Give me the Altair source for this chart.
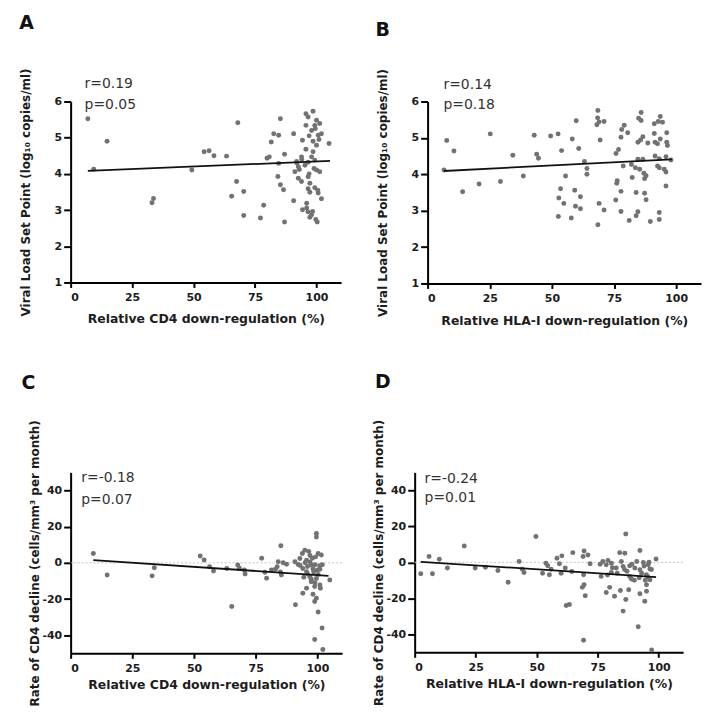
import altair as alt
import pandas as pd

# ---------------- data ----------------
# Panel A: relative CD4 down-regulation (%) vs viral load set point (log10 copies/ml)
a_x = [7.0, 9.4, 14.8, 33.1, 33.7, 49.3, 54.3, 56.3, 58.3, 63.4, 68.0, 67.5, 65.5, 70.4, 70.4, 77.2, 78.5, 79.9, 80.8, 81.6,
       82.6, 84.6, 85.3, 84.6, 84.3, 85.3, 86.6, 87.0, 87.0, 90.7, 90.7,
       95.7, 98.6, 96.6, 100.0, 99.3, 101.3, 95.7, 98.0, 100.7, 102.0, 94.3, 98.6, 105.1, 100.0, 95.7, 98.6, 93.9, 98.0, 99.3, 91.9,
       96.6, 92.6, 95.3, 100.0, 101.3, 91.2, 92.6, 96.6, 93.9, 97.3, 96.6, 99.3, 100.7, 97.3, 102.0, 96.0, 94.3, 96.0, 98.4, 97.3,
       99.7, 100.3, 98.0,
       92.0, 94.0, 97.0, 99.0, 101.0, 97.0, 99.5, 93.0, 100.5, 96.5]
a_y = [5.52, 4.13, 4.90, 3.20, 3.32, 4.11, 4.61, 4.64, 4.50, 4.49, 5.41, 3.79, 3.38, 3.51, 2.85, 2.78, 3.13, 4.43, 4.47, 4.88,
       5.11, 5.07, 5.52, 4.29, 3.93, 3.70, 3.56, 4.54, 2.67, 5.11, 3.26,
       5.66, 5.73, 5.57, 5.48, 5.34, 5.39, 5.34, 5.20, 5.07, 5.11, 4.93, 4.90, 4.84, 4.79, 4.68, 4.61, 4.47, 4.47, 4.38, 4.34,
       4.32, 4.20, 4.24, 4.11, 4.06, 4.06, 3.88, 3.92, 3.79, 3.74, 3.59, 3.62, 3.47, 3.49, 3.31, 3.19, 3.01, 3.06, 2.96, 2.80,
       2.74, 2.67, 2.87,
       4.30, 4.40, 4.00, 4.15, 4.95, 5.05, 5.25, 4.12, 3.55, 2.95]

# Panel B: relative HLA-I down-regulation (%) vs viral load set point
b_x = [6.6, 7.7, 10.6, 14.1, 20.7, 25.2, 29.3, 34.3, 38.5, 42.9, 43.9, 44.6, 49.5, 52.5, 53.9, 53.5, 52.8, 52.6, 54.8, 55.5,
       58.2, 59.2, 57.8, 59.8, 59.5, 61.5, 60.8, 61.5, 63.1, 64.1, 64.1, 68.5, 68.4, 69.0, 68.1, 71.0, 69.4, 69.0, 71.0, 68.5,
       75.8, 76.8, 76.3, 76.1, 75.7, 77.8, 77.8, 78.1, 79.1, 77.8, 78.7, 80.5, 81.1, 82.3,
       85.9, 84.9, 85.9, 93.6, 92.8, 91.2, 94.5, 91.2, 96.2, 86.6, 85.7, 84.6, 88.6, 91.5, 93.6, 92.5, 96.2, 96.5, 84.6, 86.6,
       91.5, 93.2, 95.9, 97.9, 82.0, 83.6, 85.3, 92.5, 93.2, 95.2, 95.9, 87.0, 87.9, 87.3, 95.9, 83.9, 87.3, 87.9, 84.6, 83.9,
       93.2, 93.2, 89.6]
b_y = [4.12, 4.93, 4.64, 3.52, 3.73, 5.11, 3.80, 4.52, 3.95, 5.07, 4.55, 4.44, 5.05, 5.11, 4.65, 3.60, 3.35, 2.84, 3.20, 3.95,
       4.97, 3.56, 2.80, 5.47, 3.12, 3.05, 4.71, 3.38, 4.35, 4.16, 4.00, 5.75, 5.55, 5.44, 5.36, 5.45, 4.94, 3.20, 3.02, 2.61,
       4.57, 4.68, 3.82, 3.75, 3.29, 3.53, 2.98, 5.23, 5.35, 5.02, 4.23, 5.14, 2.73, 3.91,
       5.70, 5.54, 5.48, 5.59, 5.45, 5.39, 5.43, 5.12, 5.14, 5.03, 4.94, 4.88, 4.86, 4.88, 4.97, 4.84, 4.88, 4.79, 4.41, 4.41,
       4.50, 4.43, 4.48, 4.39, 4.27, 4.18, 4.14, 4.23, 4.18, 4.14, 4.06, 4.03, 3.96, 3.88, 3.68, 3.50, 3.48, 3.30, 2.97, 2.86,
       2.95, 2.76, 2.70]

# Panel C: relative CD4 down-regulation (%) vs rate of CD4 decline
c_x = [9.2, 14.8, 33.0, 33.9, 52.5, 54.1, 56.3, 57.9, 63.3, 65.3, 67.7, 68.4, 70.4, 70.7, 77.4, 78.7, 79.4, 81.4, 83.7, 85.2,
       85.4, 86.1, 87.5, 84.1, 85.0, 83.0,
       99.6, 99.6, 94.9, 93.9, 100.3, 101.6, 99.3, 92.9, 95.6, 90.9, 92.2, 97.5, 100.9, 94.1, 98.2, 95.6, 100.3, 96.9, 99.6, 105.0,
       97.5, 101.0, 98.9, 95.6, 101.2, 94.1, 98.2, 99.6, 98.9, 91.1, 100.3, 101.9, 98.9, 102.2,
       96.0, 97.0, 98.5, 99.0, 101.0, 93.0, 95.0, 96.0, 97.5, 99.0, 100.0, 102.0, 94.5, 98.0, 96.5, 97.0]
c_y = [5.2, -6.7, -7.2, -2.7, 3.8, 1.6, -2.1, -4.5, -3.1, -24.1, -1.2, -3.0, -3.9, -6.2, 2.5, -5.2, -8.5, -3.9, -2.1, 9.4,
       -6.7, 0.1, -0.8, 0.6, -5.0, -3.5,
       16.2, 14.3, 7.0, 5.2, 5.2, 4.3, 3.3, 2.4, 1.5, 0.6, -0.9, -1.2, -1.6, -3.1, -3.4, -4.9, -6.4, -7.6, -8.6, -9.5,
       -10.4, -12.2, -13.1, -14.0, -14.0, -16.8, -17.4, -19.5, -21.4, -23.2, -27.2, -36.0, -42.4, -47.9,
       -2.0, 0.5, -5.0, -1.0, -3.5, -1.5, 0.0, -6.0, -9.0, -11.0, -4.0, -1.0, -8.0, 2.5, 6.3, 4.0]

# Panel D: relative HLA-I down-regulation (%) vs rate of CD4 decline
d_x = [2.5, 5.9, 7.3, 10.1, 13.4, 20.3, 24.8, 29.0, 34.1, 38.3, 42.8, 44.1, 44.8, 49.7, 52.4, 53.8, 54.5, 55.2, 55.9, 58.3,
       60.3, 59.3, 60.0, 61.7, 62.1, 63.4, 64.8, 64.4, 69.4, 69.0, 71.0, 69.2, 69.4, 68.7, 69.9, 69.2, 71.9,
       86.5, 84.0, 86.1, 92.3, 77.1, 79.2, 80.6, 78.5, 84.7, 85.4, 88.1, 93.7, 98.9, 95.7, 90.2, 92.3, 96.4, 82.6, 80.6, 76.4,
       88.1, 88.8, 95.0, 96.4, 95.0, 79.9, 78.5, 81.9, 84.3, 87.7, 92.3, 95.0, 86.5, 94.3, 85.4, 91.6, 97.1,
       89.0, 91.0, 93.0, 94.0, 95.5, 97.0, 90.0, 92.0, 87.0, 83.0, 79.0, 81.0, 76.0, 86.0, 94.5, 96.0]
d_y = [-6.3, 3.2, -6.3, 1.7, -3.2, 9.1, -3.2, -2.7, -4.5, -11.1, 0.5, -3.8, -5.6, 14.3, -6.0, -0.5, -1.9, -6.9, -3.8, 2.3,
       3.6, -0.8, -6.0, -3.2, -24.0, -23.4, 5.4, -5.1, 6.3, 3.2, 4.1, -6.9, -12.4, -13.9, -18.5, -43.3, -0.8,
       15.7, 5.4, 5.1, 6.6, 0.5, 1.0, -0.5, -1.4, 0.5, -2.3, -1.9, -0.1, 1.8, -1.4, -3.2, -4.1, -3.7, -3.2, -5.6, -7.8,
       -7.8, -9.3, -6.9, -9.7, -12.4, -13.9, -16.7, -18.9, -15.6, -15.2, -17.4, -16.1, -20.7, -21.6, -27.1, -35.8, -48.7,
       -1.0, 0.5, -6.0, -2.0, -8.0, -4.0, -10.0, -8.5, -5.0, -6.0, -7.0, -3.0, -1.0, -4.0, -10.0, 0.0]

# Fitted regression line end points
fit_a_x, fit_a_y = [7.0, 105.5], [4.08, 4.36]
fit_b_x, fit_b_y = [6.6, 98.3], [4.09, 4.41]
fit_c_x, fit_c_y = [9.2, 104.5], [1.5, -7.2]
fit_d_x, fit_d_y = [2.5, 98.9], [0.3, -8.2]

# Labels
letters = ["A", "B", "C", "D"]
r_labels = ["r=0.19", "r=0.14", "r=-0.18", "r=-0.24"]
p_labels = ["p=0.05", "p=0.18", "p=0.07", "p=0.01"]
x_titles = ["Relative CD4 down-regulation (%)", "Relative HLA-I down-regulation (%)",
            "Relative CD4 down-regulation (%)", "Relative HLA-I down-regulation (%)"]
vl_title = "Viral Load Set Point (log\u2081\u2080 copies/ml)"
cd4_title = "Rate of CD4 decline (cells/mm\u00b3 per month)"
x_ticks = [0, 25, 50, 75, 100]
vl_ticks = [1, 2, 3, 4, 5, 6]
cd4_ticks = [-40, -20, 0, 20, 40]

FONT = "DejaVu Sans"
PT = "#727272"
INK = "#1c1c1c"


def panel(xs, ys, fx, fy, i, ytitle, ydom, yticks, w, h, lay, zero_line=False):
    df = pd.DataFrame({"x": xs, "y": ys})
    fit = pd.DataFrame({"x": fx, "y": fy})
    xenc = alt.X("x:Q", scale=alt.Scale(domain=[0, 110], nice=False, zero=False),
                 axis=alt.Axis(values=x_ticks, title=x_titles[i], titleY=lay["xt"],
                               titleBaseline="alphabetic", tickSize=5, labelPadding=4))
    yenc = alt.Y("y:Q", scale=alt.Scale(domain=ydom, nice=False, zero=False),
                 axis=alt.Axis(values=yticks, title=ytitle, titleX=lay["yt"],
                               titleBaseline="alphabetic", labelExpr="'' + datum.value",
                               tickSize=7, labelPadding=2))
    layers = []
    if zero_line:
        layers.append(alt.Chart(pd.DataFrame({"y": [0]})).mark_rule(
            color="#c4c4c4", strokeWidth=1, strokeDash=[2, 2]).encode(y=yenc))
    layers.append(alt.Chart(df).mark_circle(size=25, color=PT, opacity=1).encode(x=xenc, y=yenc))
    layers.append(alt.Chart(fit).mark_line(color="#111111", strokeWidth=1.8).encode(x=xenc, y=yenc))
    for txt, yy in ((r_labels[i], lay["r"]), (p_labels[i], lay["p"])):
        layers.append(alt.Chart(pd.DataFrame({"t": [txt]})).mark_text(
            align="left", baseline="alphabetic", font=FONT, fontSize=14, color="#333333").encode(
            text="t:N", x=alt.value(lay["tx"]), y=alt.value(yy)))
    layers.append(alt.Chart(pd.DataFrame({"t": [letters[i]]})).mark_text(
        align="left", baseline="alphabetic", font=FONT, fontSize=19, fontWeight="bold", color="#111111").encode(
        text="t:N", x=alt.value(lay["lx"]), y=alt.value(lay["ly"])))
    return alt.layer(*layers).properties(width=w, height=h)


pa = panel(a_x, a_y, fit_a_x, fit_a_y, 0, vl_title, [1, 6], vl_ticks, 272, 182,
           dict(xt=40, yt=-41.8, tx=14, r=-13.3, p=7.4, lx=-51.7, ly=-72.6))
pb = panel(b_x, b_y, fit_b_x, fit_b_y, 1, vl_title, [1, 6], vl_ticks, 275, 183,
           dict(xt=41.6, yt=-41.5, tx=16, r=-12.6, p=7.4, lx=-52.5, ly=-66.3))
pc = panel(c_x, c_y, fit_c_x, fit_c_y, 2, cd4_title, [-50, 50], cd4_ticks, 273, 182,
           dict(xt=35, yt=-32.7, tx=10.7, r=9.2, p=31.6, lx=-49.3, ly=-84), zero_line=True)
pd_ = panel(d_x, d_y, fit_d_x, fit_d_y, 3, cd4_title, [-50, 50], cd4_ticks, 270, 181,
            dict(xt=35.2, yt=-32, tx=10, r=10.8, p=29.8, lx=-40, ly=-85.2), zero_line=True)

chart = alt.vconcat(
    alt.hconcat(pa, pb, spacing=34),
    alt.hconcat(pc, pd_, spacing=29),
    spacing=44,
).properties(
    padding={"left": 11, "top": 4, "right": 5, "bottom": 5}
).configure_view(stroke=None).configure_axis(
    grid=False, labelOverlap=False,
    domainColor="black", domainWidth=2,
    tickColor="black", tickWidth=2,
    labelFont=FONT, labelFontWeight="bold", labelFontSize=11, labelColor=INK,
    titleFont=FONT, titleFontWeight="bold", titleColor=INK,
).configure_axisX(titleFontSize=12.5).configure_axisY(titleFontSize=12)

chart.save("out.html", embed_options={"renderer": "svg", "actions": False})
